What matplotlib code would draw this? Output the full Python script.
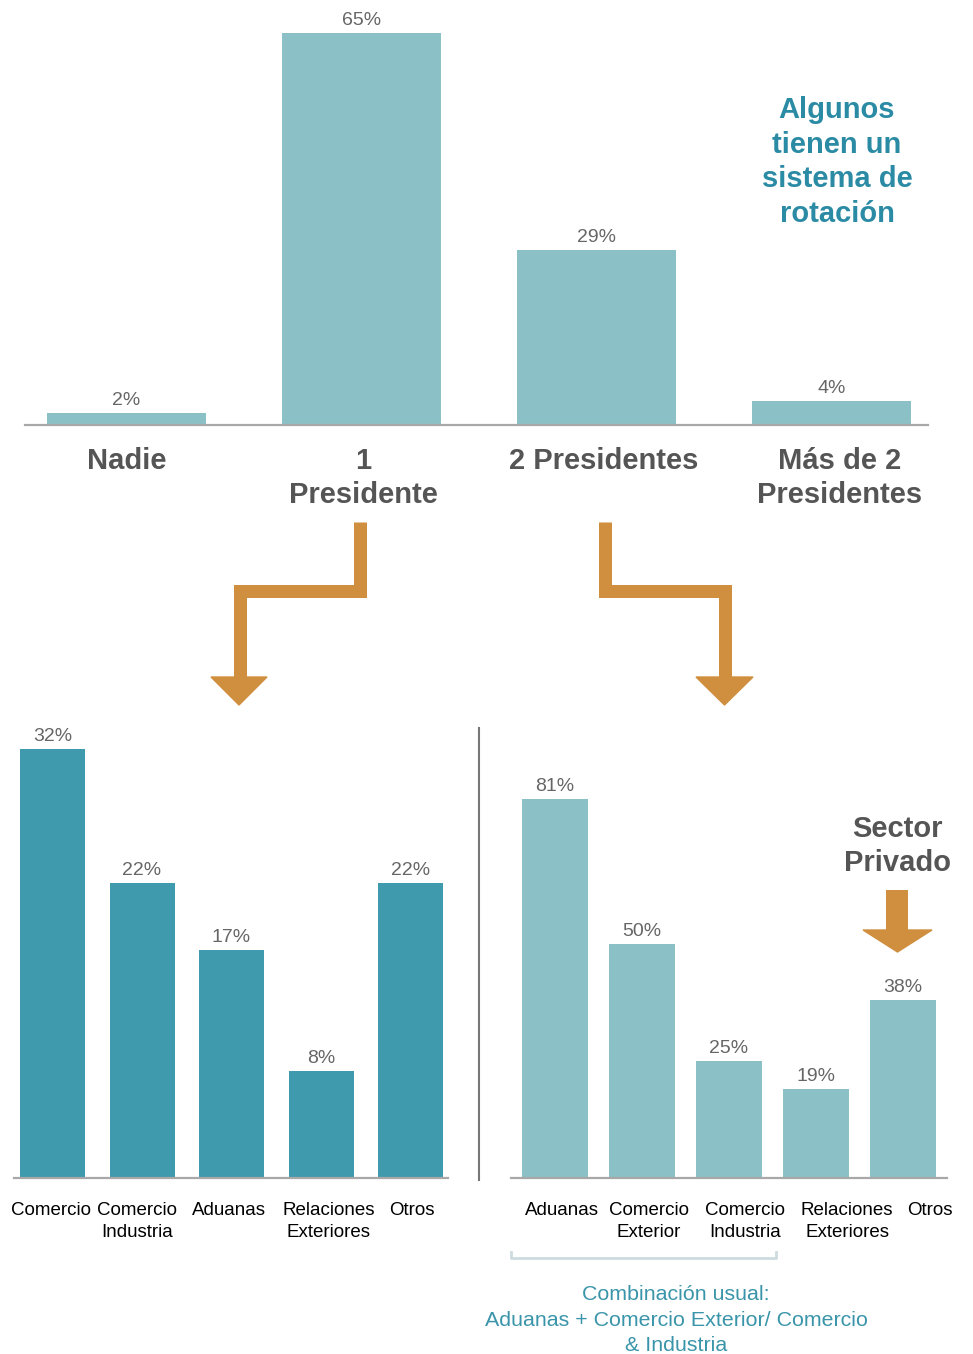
import matplotlib
matplotlib.use("Agg")
import matplotlib.pyplot as plt
from matplotlib.patches import Polygon
from matplotlib.transforms import ScaledTranslation

# datos
top_cats = ["Nadie", "1\nPresidente", "2 Presidentes", "Más de 2\nPresidentes"]
top_vals = [2, 65, 29, 4]

left_cats = ["Comercio", "Comercio\nIndustria", "Aduanas", "Relaciones\nExteriores", "Otros"]
left_vals = [32, 22, 17, 8, 22]

right_cats = ["Aduanas", "Comercio\nExterior", "Comercio\nIndustria", "Relaciones\nExteriores", "Otros"]
right_vals = [81, 50, 25, 19, 38]

W, H = 973, 1354
LIGHT = "#8BC1C6"
DARK = "#3F9AAD"
ORANGE = "#D08F3F"
GRAY = "#555555"
TEAL = "#2B8BA5"

plt.rcParams['font.family'] = ['Liberation Sans', 'DejaVu Sans']

fig = plt.figure(figsize=(W / 100, H / 100), dpi=100)


def px_axes(x0, y0, x1, y1, **kw):
    return fig.add_axes([x0 / W, 1 - y1 / H, (x1 - x0) / W, (y1 - y0) / H], **kw)


def bar_panel(ax, cats, vals, color, width, xlim, ylim, fs, pad, lab_size, offsets=None, ls=1.3):
    x = list(range(len(vals)))
    bars = ax.bar(x, vals, width=width, color=color, zorder=2)
    for b, v in zip(bars, vals):
        ax.annotate(f"{v}%", (b.get_x() + b.get_width() / 2, b.get_height()),
                    xytext=(0, 3), textcoords="offset points", ha="center",
                    va="bottom", fontsize=lab_size, color="#666666")
    ax.set_xlim(*xlim)
    ax.set_ylim(*ylim)
    ax.set_xticks(x)
    ax.set_xticklabels(cats, fontsize=fs[0], fontweight=fs[1], color=fs[2],
                       linespacing=ls)
    ax.tick_params(axis="x", length=0, pad=pad)
    ax.set_yticks([])
    for s in ["top", "right", "left"]:
        ax.spines[s].set_visible(False)
    ax.spines["bottom"].set_color("#a8a8a8")
    ax.spines["bottom"].set_linewidth(1.6)
    if offsets:
        for lab, dx in zip(ax.get_xticklabels(), offsets):
            lab.set_transform(lab.get_transform() + ScaledTranslation(dx / 100, 0, fig.dpi_scale_trans))


# grafico superior
ax_top = px_axes(25, 0, 928, 425)
bar_panel(ax_top, top_cats, top_vals, LIGHT, 159 / 235,
          ((25 - 126.5) / 235, (928 - 126.5) / 235), (0, 425 / 6.03),
          (21, "bold", GRAY), 15.5, 14, offsets=[0, 2, 7, 8], ls=1.3)

# grafico inferior izquierdo
ax_l = px_axes(14, 700, 448, 1178)
bar_panel(ax_l, left_cats, left_vals, DARK, 65 / 89.5,
          ((14 - 52.5) / 89.5, (448 - 52.5) / 89.5), (0, 478 / 13.4),
          (13.5, "normal", "black"), 17.5, 14, offsets=[-1, -5, -3, 8, 1], ls=1.35)

# grafico inferior derecho
ax_r = px_axes(511, 700, 947, 1178)
bar_panel(ax_r, right_cats, right_vals, LIGHT, 66 / 87,
          ((511 - 555) / 87, (947 - 555) / 87), (0, 478 / 4.68),
          (13.5, "normal", "black"), 17.5, 14, offsets=[7, 7, 16, 31, 27], ls=1.35)

# capa de anotaciones en pixeles
ov = fig.add_axes([0, 0, 1, 1], zorder=5)
ov.set_xlim(0, W)
ov.set_ylim(H, 0)
ov.axis("off")
ov.patch.set_alpha(0)

lw = 13 * 72 / 100
ov.plot([360, 360, 240, 240], [522, 590.5, 590.5, 679], color=ORANGE, lw=lw,
        solid_joinstyle="miter", solid_capstyle="butt")
ov.add_patch(Polygon([(211, 677), (267, 677), (239, 705)], closed=True, color=ORANGE))
ov.plot([604.5, 604.5, 724.5, 724.5], [522, 590.5, 590.5, 679], color=ORANGE, lw=lw,
        solid_joinstyle="miter", solid_capstyle="butt")
ov.add_patch(Polygon([(696, 677), (753, 677), (724.5, 705)], closed=True, color=ORANGE))
ov.plot([897, 897], [890, 932], color=ORANGE, lw=22 * 72 / 100, solid_capstyle="butt")
ov.add_patch(Polygon([(863, 930), (932, 930), (897.5, 952)], closed=True, color=ORANGE))

ov.plot([479, 479], [728, 1180], color="#777777", lw=1.5)
ov.plot([511, 511, 776, 776], [1252, 1258, 1258, 1252], color="#cddcde", lw=2)

ov.text(837, 162, "Algunos\ntienen un\nsistema de\nrotación", ha="center", va="center",
        fontsize=21, fontweight="bold", color=TEAL, linespacing=1.3)
ov.text(897, 846, "Sector\nPrivado", ha="center", va="center",
        fontsize=21, fontweight="bold", color=GRAY, linespacing=1.3)
ov.text(676, 1320, "Combinación usual:\nAduanas + Comercio Exterior/ Comercio\n& Industria",
        ha="center", va="center", fontsize=15.4, color="#3A95AA", linespacing=1.45)

fig.savefig("out.png", dpi=100)
